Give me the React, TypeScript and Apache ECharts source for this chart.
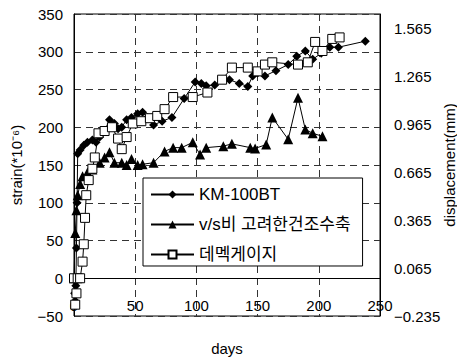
import React, { useEffect, useRef } from "react";
import * as echarts from "echarts";

const kmDays = [0, 0.5, 1, 1.5, 2, 2.5, 3, 5, 8, 11, 15, 18, 21, 25, 29, 33, 36, 39, 43, 47, 52, 56, 60, 65, 72, 80, 90, 99, 104, 108, 115, 127, 135, 142, 146, 150, 156, 165, 175, 182, 189, 195, 202, 209, 216, 238];
const kmStrain = [0, -20, -30, -10, 40, 100, 165, 170, 176, 180, 183, 180, 187, 195, 210, 205, 198, 200, 210, 213, 218, 220, 213, 203, 208, 213, 238, 260, 258, 255, 256, 263, 258, 254, 268, 272, 268, 275, 283, 294, 301, 290, 298, 306, 306, 314];

const vsDays = [0, 1, 2, 3, 5, 7, 11, 15, 21, 25, 29, 33, 39, 43, 47, 52, 56, 65, 74, 81, 88, 97, 103, 108, 122, 129, 144, 148, 157, 162, 175, 183, 189, 195, 203];
const vsStrain = [0, 60, 90, 110, 125, 135, 140, 144, 153, 160, 167, 153, 153, 150, 158, 150, 151, 153, 168, 173, 173, 180, 164, 173, 175, 178, 173, 172, 177, 213, 184, 239, 197, 192, 188];

const dmDays = [0, 1, 2, 3, 5, 7, 8, 9, 10, 12, 15, 17, 20, 25, 31, 36, 39, 43, 48, 55, 62, 68, 74, 81, 97, 109, 121, 129, 142, 150, 156, 162, 183, 191, 197, 203, 211, 217];
const dmStrain = [0, -35, -20, 0, 0, 22, 45, 80, 110, 130, 145, 160, 192, 195, 200, 185, 171, 187, 205, 208, 212, 215, 224, 240, 240, 246, 263, 279, 279, 274, 283, 286, 283, 286, 313, 301, 317, 319];

const seriesNames = ["KM-100BT", "v/s비 고려한건조수축", "데멕게이지"];

const pairs = (xs: number[], ys: number[]) => xs.map((x, i) => [x, ys[i]]);
const minus = (s: string) => s.replace("-", "\u2212");

const FONT = "'Liberation Sans', Arial, 'Noto Sans CJK KR', sans-serif";

export default function App() {
  const ref = useRef<HTMLDivElement>(null);
  useEffect(() => {
    if (!ref.current) return;
    const chart = echarts.init(ref.current, null, { renderer: "svg" });
    const dash = { color: "#333", type: [7, 5] as number[], width: 1 };
    chart.setOption({
      animation: false,
      backgroundColor: "#fff",
      textStyle: { fontFamily: FONT, color: "#000" },
      grid: {
        left: 74,
        right: 77,
        top: 14,
        bottom: 41,
        containLabel: false,
        outerBoundsMode: "none",
        show: true,
        borderColor: "#000",
        borderWidth: 1,
      },
      legend: {
        orient: "vertical",
        left: 143,
        top: 178,
        padding: [8, 12, 3, 7],
        itemGap: 13,
        itemWidth: 43,
        itemHeight: 10,
        borderColor: "#000",
        borderWidth: 1,
        backgroundColor: "#fff",
        textStyle: { fontSize: 17, color: "#000", fontFamily: FONT },
        data: seriesNames,
      },
      xAxis: {
        type: "value",
        min: 0,
        max: 250,
        interval: 50,
        name: "days",
        nameLocation: "middle",
        nameGap: 25,
        nameTextStyle: { fontSize: 15, color: "#000" },
        axisLine: { show: true, onZero: true, onZeroAxisIndex: 0, lineStyle: { color: "#000", width: 1 } },
        axisTick: { show: false },
        axisLabel: { fontSize: 15, color: "#000", inside: true, margin: 3 },
        splitLine: { show: true, lineStyle: dash },
      },
      yAxis: [
        {
          type: "value",
          min: -50,
          max: 350,
          interval: 50,
          name: "strain(*10\u207B\u2076)",
          nameLocation: "middle",
          nameGap: 50,
          nameRotate: 90,
          nameMoveOverlap: false,
          nameTextStyle: { fontSize: 15, color: "#000" },
          axisLine: { show: true, lineStyle: { color: "#000" } },
          axisTick: { show: false },
          axisLabel: { fontSize: 15, color: "#000", margin: 11, formatter: (v: number) => minus(String(v)) },
          splitLine: { show: true, lineStyle: dash },
        },
        {
          type: "value",
          min: -0.235,
          max: 1.659,
          interval: 0.3,
          position: "right",
          name: "displacement(mm)",
          nameLocation: "middle",
          nameGap: 62,
          nameRotate: 90,
          nameMoveOverlap: false,
          nameTextStyle: { fontSize: 15, color: "#000" },
          axisLine: { show: true, lineStyle: { color: "#000" } },
          axisTick: { show: false },
          axisLabel: {
            fontSize: 15,
            color: "#000",
            margin: 14,
            showMaxLabel: false,
            formatter: (v: number) => (v > 1.6 ? "" : minus(v.toFixed(3))),
          },
          splitLine: { show: false },
        },
      ],
      series: [
        {
          name: seriesNames[0],
          type: "line",
          data: pairs(kmDays, kmStrain),
          symbol: "diamond",
          symbolSize: 9,
          itemStyle: { color: "#000" },
          lineStyle: { color: "#000", width: 1 },
        },
        {
          name: seriesNames[1],
          type: "line",
          data: pairs(vsDays, vsStrain),
          symbol: "triangle",
          symbolSize: 10,
          itemStyle: { color: "#000" },
          lineStyle: { color: "#000", width: 1 },
        },
        {
          name: seriesNames[2],
          type: "line",
          data: pairs(dmDays, dmStrain),
          symbol: "rect",
          symbolSize: 9,
          itemStyle: { color: "#fff", borderColor: "#000", borderWidth: 1 },
          lineStyle: { color: "#000", width: 1 },
        },
      ],
    });
    return () => chart.dispose();
  }, []);
  return <div ref={ref} style={{ width: 457, height: 357, position: "absolute", left: 0, top: 0 }} />;
}
